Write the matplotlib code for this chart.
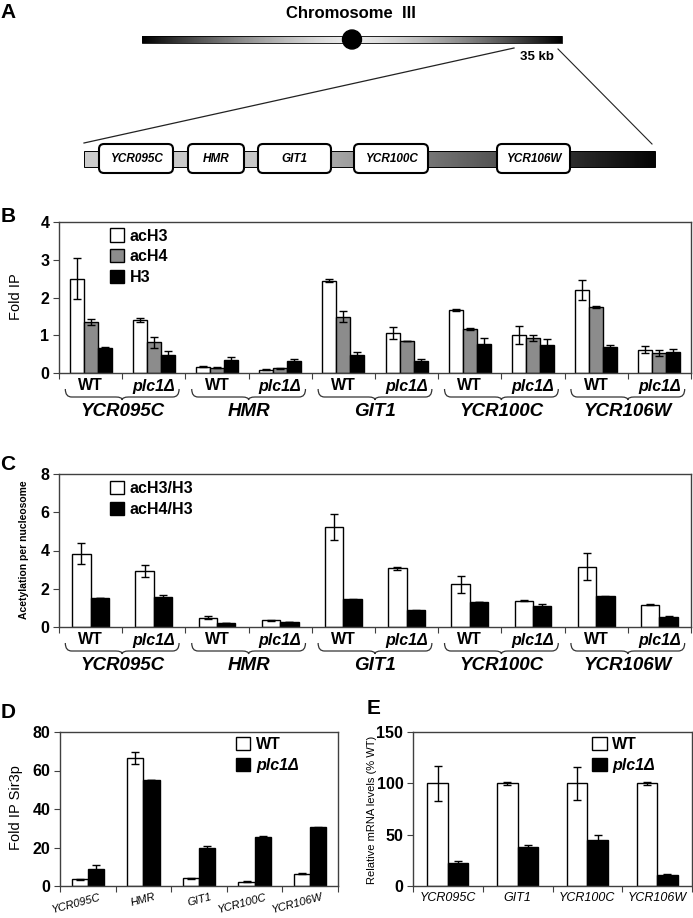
import numpy as np
import matplotlib
matplotlib.use('Agg')
import matplotlib.pyplot as plt
from matplotlib.patches import Patch, Rectangle, FancyBboxPatch, Circle, PathPatch
from matplotlib.path import Path
import matplotlib.transforms as mtransforms

plt.rcParams['font.family'] = ['Liberation Sans', 'DejaVu Sans']

W, H = 693, 918

# ---- data ----
genes = ['YCR095C', 'HMR', 'GIT1', 'YCR100C', 'YCR106W']
strains = ['WT', 'plc1\u0394']

# panel B: fold IP, order = gene x (WT, plc1)
b_acH3 = [2.50, 1.40, 0.17, 0.09, 2.45, 1.06, 1.66, 1.01, 2.20, 0.62]
b_acH3_err = [0.55, 0.06, 0.02, 0.02, 0.04, 0.17, 0.03, 0.23, 0.27, 0.09]
b_acH4 = [1.35, 0.81, 0.14, 0.12, 1.49, 0.85, 1.17, 0.93, 1.75, 0.53]
b_acH4_err = [0.08, 0.14, 0.02, 0.02, 0.15, 0.01, 0.03, 0.08, 0.02, 0.07]
b_H3 = [0.65, 0.47, 0.35, 0.31, 0.47, 0.33, 0.78, 0.73, 0.70, 0.55]
b_H3_err = [0.05, 0.10, 0.07, 0.07, 0.08, 0.04, 0.15, 0.17, 0.05, 0.08]

# panel C: acetylation per nucleosome
c_acH3 = [3.84, 2.92, 0.49, 0.35, 5.24, 3.06, 2.24, 1.38, 3.16, 1.17]
c_acH3_err = [0.55, 0.33, 0.07, 0.02, 0.67, 0.07, 0.45, 0.02, 0.70, 0.02]
c_acH4 = [1.52, 1.57, 0.20, 0.24, 1.45, 0.87, 1.29, 1.10, 1.61, 0.52]
c_acH4_err = [0.0, 0.08, 0.0, 0.0, 0.02, 0.03, 0.0, 0.08, 0.03, 0.03]

# panel D: Sir3p fold IP
d_wt = [3.5, 66.6, 4.0, 2.3, 6.4]
d_wt_err = [0.3, 3.2, 0.3, 0.3, 0.3]
d_plc = [9.0, 55.3, 20.0, 25.2, 30.4]
d_plc_err = [1.7, 0.0, 1.0, 1.0, 0.4]

# panel E: relative mRNA levels
e_genes = ['YCR095C', 'GIT1', 'YCR100C', 'YCR106W']
e_wt = [100, 100, 100, 100]
e_wt_err = [17, 1.5, 16, 1.5]
e_plc = [22.4, 38, 45, 11]
e_plc_err = [2.0, 1.5, 4.5, 0.7]

GRAY = '#8c8c8c'
SPINE = '#404040'

fig = plt.figure(figsize=(W / 100, H / 100), dpi=100)


def px_axes(left, top, right, bottom):
    return fig.add_axes([left / W, 1 - bottom / H, (right - left) / W, (bottom - top) / H])


def ftext(x, y, s, **kw):
    fig.text(x / W, 1 - y / H, s, **kw)


# ---- panel A (schematic, pixel coordinates) ----
ax_a = fig.add_axes([0, 0, 1, 1])
ax_a.axis('off')

xs = np.linspace(-1, 1, 400)
chrom = 0.92 * (1 - np.abs(xs) ** 1.4)
ax_a.imshow(chrom[None, :], cmap='gray', vmin=0, vmax=1, extent=(142, 562, 43, 36), aspect='auto')
ax_a.add_patch(Rectangle((142, 36), 420, 7, fill=False, lw=0.6, ec='black'))
ax_a.add_patch(Circle((352, 39.5), 9.5, color='black'))

gx = np.linspace(84, 655, 600)
gline = np.interp(gx, [84, 260, 340, 430, 500, 570, 655], [0.80, 0.78, 0.64, 0.46, 0.32, 0.18, 0.02])
ax_a.imshow(gline[None, :], cmap='gray', vmin=0, vmax=1, extent=(84, 655, 167, 151), aspect='auto')
ax_a.add_patch(Rectangle((84, 151), 571, 16, fill=False, lw=0.7, ec='black'))

ax_a.plot([514, 84], [48, 143], color='#222222', lw=0.9)
ax_a.plot([558, 652], [49, 144], color='#222222', lw=0.8)

box_spans = [(99, 173), (188, 244), (258, 331), (354, 428), (497, 570)]
for name, (x0, x1) in zip(genes, box_spans):
    ax_a.add_patch(FancyBboxPatch((x0, 144), x1 - x0, 29, boxstyle='round,pad=0,rounding_size=5',
                                  fc='white', ec='black', lw=1.5))
    ax_a.text((x0 + x1) / 2, 159, name, ha='center', va='center', fontsize=8.5, style='italic',
              weight='bold')

ax_a.text(351, 14, 'Chromosome  III', ha='center', va='center', fontsize=12, weight='bold')
ax_a.text(537, 57, '35 kb', ha='center', va='center', fontsize=9.5, weight='bold')
ax_a.set_xlim(0, W)
ax_a.set_ylim(H, 0)

for letter, (lx, ly) in zip('ABCDE', [(8, 12), (8, 216), (8, 464), (8, 712), (374, 708)]):
    ftext(lx, ly, letter, ha='center', va='center', fontsize=15, weight='bold')


def style_axes(ax):
    for sp in ax.spines.values():
        sp.set_color(SPINE)
        sp.set_linewidth(1.0)
    ax.tick_params(axis='y', direction='out', length=4, width=0.8, color=SPINE, labelsize=11.5, pad=3)
    ax.tick_params(axis='x', direction='out', length=4, width=0.8, color=SPINE)
    for t in ax.get_yticklabels():
        t.set_fontweight('bold')


def boundary_ticks(ax, n):
    ax.set_xlim(-0.5, n - 0.5)
    ax.set_xticks(np.arange(n + 1) - 0.5)
    ax.set_xticklabels([])


def brace(ax, x0, x1, h_px, top_off, line_off, nub_off, r=0.1):
    tr = mtransforms.blended_transform_factory(ax.transData, ax.transAxes)
    yt, yl, yn = -top_off / h_px, -line_off / h_px, -nub_off / h_px
    xc = (x0 + x1) / 2
    verts = [(x0, yt), (x0, yl), (x0 + r, yl), (xc - r, yl), (xc, yl), (xc, yn),
             (xc, yl), (xc + r, yl), (x1 - r, yl), (x1, yl), (x1, yt)]
    codes = [Path.MOVETO, Path.CURVE3, Path.CURVE3, Path.LINETO, Path.CURVE3, Path.CURVE3,
             Path.CURVE3, Path.CURVE3, Path.LINETO, Path.CURVE3, Path.CURVE3]
    ax.add_patch(PathPatch(Path(verts, codes), transform=tr, fill=False, lw=0.9, ec='#333333',
                           clip_on=False))


def group_labels(ax, h_px):
    for i in range(len(genes) * 2):
        s = strains[i % 2]
        ax.annotate(s, xy=(i, 0), xycoords=('data', 'axes fraction'), xytext=(0, -13),
                    textcoords='offset pixels', ha='center', va='center', fontsize=11.5,
                    weight='bold', style='italic' if i % 2 else 'normal')
    for g, name in enumerate(genes):
        brace(ax, 2 * g - 0.4, 2 * g + 1.4, h_px, 16, 24, 27)
        ax.annotate(name, xy=(2 * g + 0.5, 0), xycoords=('data', 'axes fraction'), xytext=(0, -38),
                    textcoords='offset pixels', ha='center', va='center', fontsize=13.5,
                    weight='bold', style='italic')


ebar = dict(fmt='none', ecolor='black', elinewidth=1.0, capsize=3, capthick=1.0, zorder=3)

# ---- panel B ----
ax_b = px_axes(59, 222, 691, 373)
x = np.arange(10)
wb = 0.222
for off, vals, errs, col, lab in [(-wb, b_acH3, b_acH3_err, 'white', 'acH3'),
                                  (0, b_acH4, b_acH4_err, GRAY, 'acH4'),
                                  (wb, b_H3, b_H3_err, 'black', 'H3')]:
    ax_b.bar(x + off, vals, width=wb, color=col, edgecolor='black', linewidth=1.0, label=lab)
    ax_b.errorbar(x + off, vals, yerr=errs, **ebar)
ax_b.set_ylim(0, 4)
ax_b.set_yticks([0, 1, 2, 3, 4])
boundary_ticks(ax_b, 10)
style_axes(ax_b)
ax_b.legend(loc='upper left', bbox_to_anchor=(0.07, 1.0), frameon=False, borderaxespad=0,
            prop={'weight': 'bold', 'size': 11.5}, handlelength=0.9, handleheight=0.9,
            handletextpad=0.35, labelspacing=0.35)
group_labels(ax_b, 151)
ftext(16, 297, 'Fold IP', rotation=90, ha='center', va='center', fontsize=10.5)

# ---- panel C ----
ax_c = px_axes(59, 474, 691, 627)
wc = 0.29
ax_c.bar(x - wc / 2, c_acH3, width=wc, color='white', edgecolor='black', linewidth=1.0, label='acH3/H3')
ax_c.errorbar(x - wc / 2, c_acH3, yerr=c_acH3_err, **ebar)
ax_c.bar(x + wc / 2, c_acH4, width=wc, color='black', edgecolor='black', linewidth=1.0, label='acH4/H3')
ax_c.errorbar(x + wc / 2, c_acH4, yerr=c_acH4_err, **ebar)
ax_c.set_ylim(0, 8)
ax_c.set_yticks([0, 2, 4, 6, 8])
boundary_ticks(ax_c, 10)
style_axes(ax_c)
ax_c.legend(loc='upper left', bbox_to_anchor=(0.07, 0.995), frameon=False, borderaxespad=0,
            prop={'weight': 'bold', 'size': 11.5}, handlelength=0.9, handleheight=0.9,
            handletextpad=0.35, labelspacing=0.35)
group_labels(ax_c, 153)
ftext(24, 550, 'Acetylation per nucleosome', rotation=90, ha='center', va='center',
      fontsize=7.5, weight='bold')

# ---- panel D ----
ax_d = px_axes(60, 732, 338, 886)
xd = np.arange(len(genes))
wd = 0.29
ax_d.bar(xd - wd / 2, d_wt, width=wd, color='white', edgecolor='black', linewidth=1.0, label=strains[0])
ax_d.errorbar(xd - wd / 2, d_wt, yerr=d_wt_err, **ebar)
ax_d.bar(xd + wd / 2, d_plc, width=wd, color='black', edgecolor='black', linewidth=1.0, label=strains[1])
ax_d.errorbar(xd + wd / 2, d_plc, yerr=d_plc_err, **ebar)
ax_d.set_ylim(0, 80)
ax_d.set_yticks([0, 20, 40, 60, 80])
boundary_ticks(ax_d, len(genes))
style_axes(ax_d)
for i, name in enumerate(genes):
    ax_d.annotate(name, xy=(i, 0), xycoords=('data', 'axes fraction'), xytext=(11, -6),
                  textcoords='offset pixels', ha='right', va='top', rotation=15,
                  rotation_mode='anchor', fontsize=8, style='italic')
leg = ax_d.legend(loc='upper left', bbox_to_anchor=(0.61, 1.01), frameon=False, borderaxespad=0,
                  prop={'weight': 'bold', 'size': 11.5}, handlelength=0.9, handleheight=0.9,
                  handletextpad=0.35, labelspacing=0.35)
leg.get_texts()[1].set_style('italic')
ftext(16, 808, 'Fold IP Sir3p', rotation=90, ha='center', va='center', fontsize=10.5)

# ---- panel E ----
ax_e = px_axes(413, 732, 692, 886)
xe = np.arange(len(e_genes))
we = 0.295
ax_e.bar(xe - we / 2, e_wt, width=we, color='white', edgecolor='black', linewidth=1.0, label=strains[0])
ax_e.errorbar(xe - we / 2, e_wt, yerr=e_wt_err, **ebar)
ax_e.bar(xe + we / 2, e_plc, width=we, color='black', edgecolor='black', linewidth=1.0, label=strains[1])
ax_e.errorbar(xe + we / 2, e_plc, yerr=e_plc_err, **ebar)
ax_e.set_ylim(0, 150)
ax_e.set_yticks([0, 50, 100, 150])
boundary_ticks(ax_e, len(e_genes))
style_axes(ax_e)
for i, name in enumerate(e_genes):
    ax_e.annotate(name, xy=(i, 0), xycoords=('data', 'axes fraction'), xytext=(0, -12),
                  textcoords='offset pixels', ha='center', va='center', fontsize=9, style='italic')
leg = ax_e.legend(loc='upper left', bbox_to_anchor=(0.62, 1.01), frameon=False, borderaxespad=0,
                  prop={'weight': 'bold', 'size': 11.5}, handlelength=0.9, handleheight=0.9,
                  handletextpad=0.35, labelspacing=0.35)
leg.get_texts()[1].set_style('italic')
ftext(372, 810, 'Relative mRNA levels (% WT)', rotation=90, ha='center', va='center', fontsize=8)

fig.savefig('out.png', dpi=100)
